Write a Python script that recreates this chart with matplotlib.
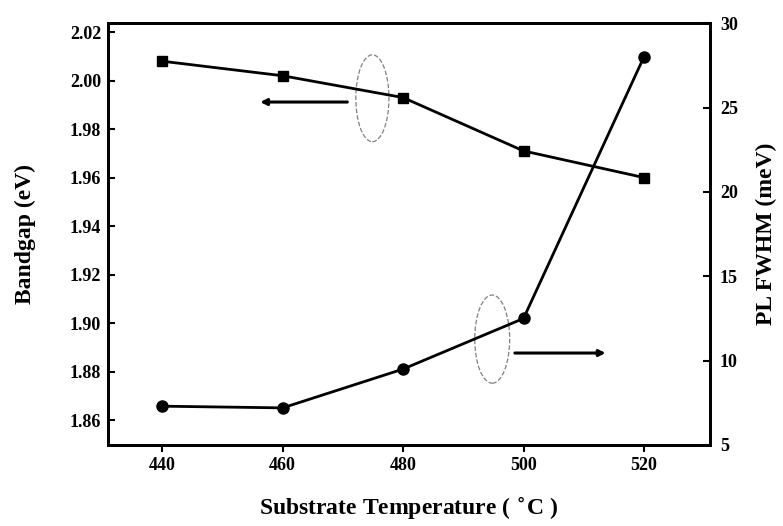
import matplotlib
matplotlib.use('Agg')
import matplotlib.pyplot as plt
from matplotlib.patches import Ellipse

# data
temperature = [440, 460, 480, 500, 520]
bandgap_ev = [2.008, 2.002, 1.993, 1.971, 1.960]
pl_fwhm_mev = [7.3, 7.2, 9.5, 12.5, 28.0]

x_ticks = [440, 460, 480, 500, 520]
left_ticks = [1.86, 1.88, 1.90, 1.92, 1.94, 1.96, 1.98, 2.00, 2.02]
right_ticks = [5, 10, 15, 20, 25, 30]

plt.rcParams['font.family'] = ['Liberation Serif', 'DejaVu Serif']
plt.rcParams['font.weight'] = 'bold'

fig = plt.figure(figsize=(7.83, 5.26), dpi=100)
ax = fig.add_axes([0.138, 0.154, 0.769, 0.802])
ax2 = ax.twinx()

ax.plot(temperature, bandgap_ev, color='black', lw=2, marker='s', ms=7.5)
ax2.plot(temperature, pl_fwhm_mev, color='black', lw=2, marker='o', ms=8)

ax.set_xlim(431, 531)
ax.set_ylim(1.8497, 2.0237)
ax2.set_ylim(5, 30)

ax.set_xticks(x_ticks)
ax.set_xticklabels([str(v) for v in x_ticks], fontsize=13, fontweight='bold')
ax.set_yticks(left_ticks)
ax.set_yticklabels(['%.2f' % v for v in left_ticks], fontsize=13, fontweight='bold')
ax2.set_yticks(right_ticks)
ax2.set_yticklabels([str(v) for v in right_ticks], fontsize=13, fontweight='bold')

ax.tick_params(axis='y', direction='in', length=5, width=1.5, pad=5)
ax.tick_params(axis='x', direction='out', length=5, width=1.5, pad=4)
ax2.tick_params(axis='y', direction='in', length=5, width=1.5, pad=7)

for a in (ax, ax2):
    for s in a.spines.values():
        s.set_linewidth(2)

ax.set_xlabel('Substrate Temperature ( $\\mathbf{^{\\circ}}$C )', fontsize=17,
              fontweight='bold', labelpad=15)
ax.set_ylabel('Bandgap (eV)', fontsize=17, fontweight='bold', labelpad=24)
ax2.set_ylabel('PL FWHM (meV)', fontsize=17, fontweight='bold', labelpad=13)

# ellipse + arrow markers pointing to each axis
tr = ax.transAxes
ax.add_patch(Ellipse((0.439, 0.822), 0.055, 0.206, transform=tr, fill=False,
                     ec='gray', ls='--', lw=0.9))
ax.annotate('', xy=(0.248, 0.813), xytext=(0.402, 0.813), xycoords=tr,
            arrowprops=dict(arrowstyle='-|>', color='black', lw=2.2,
                            mutation_scale=9))
ax.add_patch(Ellipse((0.638, 0.251), 0.058, 0.209, transform=tr, fill=False,
                     ec='gray', ls='--', lw=0.9))
ax.annotate('', xy=(0.831, 0.218), xytext=(0.671, 0.218), xycoords=tr,
            arrowprops=dict(arrowstyle='-|>', color='black', lw=2.2,
                            mutation_scale=9))

plt.savefig('out.png', dpi=100)
plt.close()
